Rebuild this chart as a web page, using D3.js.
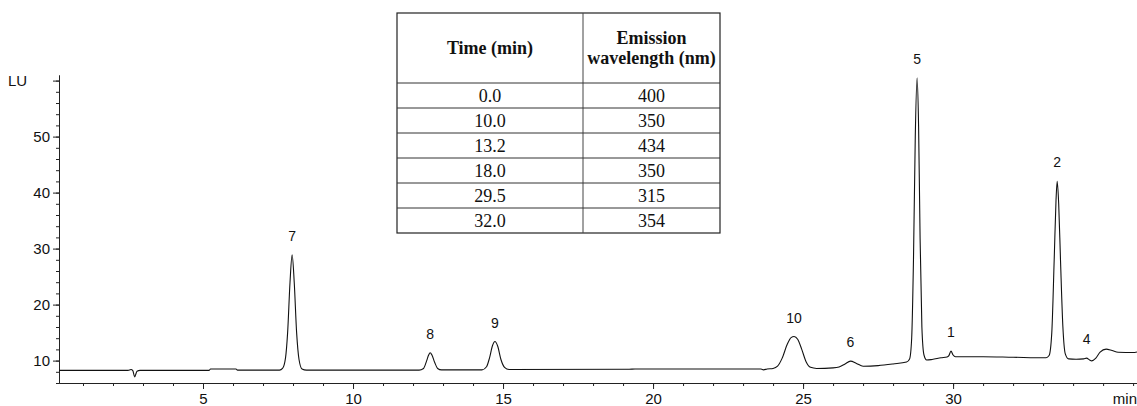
<!DOCTYPE html>
<html>
<head>
<meta charset="utf-8">
<title>Chromatogram</title>
<script src="https://d3js.org/d3.v7.min.js"></script>
<style>
body { margin: 0; background: #fff; }
</style>
</head>
<body>
<script>
var width = 1137,
    height = 406;

// trace: [time (min), signal (LU)]
var trace = [
  [0.2, 8.25], [2.5, 8.25], [2.6, 8.4], [2.66, 8.2], [2.72, 7.1], [2.8, 8.1], [2.9, 8.25],
  [5.2, 8.25], [5.25, 8.5], [6.1, 8.5], [6.15, 8.3], [7.55, 8.3],
  [7.65, 8.6], [7.75, 10.5], [7.82, 15], [7.9, 24], [7.97, 28.9], [8.04, 24], [8.12, 15],
  [8.2, 10.2], [8.3, 8.5], [8.45, 8.3],
  [12.2, 8.3], [12.35, 8.6], [12.45, 9.9], [12.52, 11], [12.57, 11.4], [12.63, 11],
  [12.72, 9.7], [12.82, 8.6], [12.95, 8.35],
  [14.3, 8.35], [14.45, 8.9], [14.55, 10.5], [14.65, 12.7], [14.73, 13.4], [14.82, 12.6],
  [14.93, 10.2], [15.05, 8.8], [15.2, 8.4],
  [19.2, 8.45], [19.4, 8.5], [23.6, 8.5], [23.68, 8.35], [23.8, 8.5], [24.0, 8.6],
  [24.15, 9.0], [24.3, 10.4], [24.48, 13], [24.6, 14.1], [24.7, 14.3], [24.82, 13.8],
  [24.95, 12.1], [25.1, 9.8], [25.25, 8.8], [25.45, 8.6],
  [26.0, 8.7], [26.2, 8.85], [26.4, 9.4], [26.58, 9.9], [26.78, 9.5], [27.0, 9.0],
  [27.5, 9.1], [28.0, 9.4], [28.45, 9.75],
  [28.55, 10.3], [28.62, 14], [28.68, 28], [28.74, 50], [28.8, 60.5], [28.85, 52],
  [28.9, 32], [28.96, 16], [29.03, 11], [29.12, 10.1], [29.3, 10.2],
  [29.6, 10.5], [29.8, 10.65], [29.86, 10.9], [29.93, 11.7], [30.0, 11.0], [30.08, 10.7],
  [31.0, 10.7], [32.0, 10.6], [33.1, 10.5],
  [33.2, 10.9], [33.29, 15], [33.37, 28], [33.43, 38.5], [33.47, 42], [33.52, 38],
  [33.58, 28], [33.66, 16], [33.74, 11.2], [33.85, 10.3],
  [34.1, 10.25], [34.35, 10.3], [34.45, 10.45], [34.55, 10.1], [34.62, 9.95],
  [34.75, 10.4], [34.9, 11.5], [35.1, 12.05], [35.3, 11.8], [35.5, 11.5], [36.0, 11.45], [36.13, 11.55]
];

var peakLabels = ["7", "8", "9", "10", "6", "5", "1", "2", "4"];
var peakTimes  = [7.97, 12.57, 14.73, 24.7, 26.58, 28.8, 29.93, 33.47, 34.45];
var peakApex   = [28.9, 11.4, 13.4, 14.3, 9.9, 60.5, 11.7, 42, 10.45];

var xMajorTicks = [5, 10, 15, 20, 25, 30];
var yMajorTicks = [10, 20, 30, 40, 50, 60];

var tableHeaders = [["Time (min)"], ["Emission", "wavelength (nm)"]];
var tableTimes = ["0.0", "10.0", "13.2", "18.0", "29.5", "32.0"];
var tableWavelengths = ["400", "350", "434", "350", "315", "354"];

var svg = d3.select("body").append("svg")
    .attr("width", width)
    .attr("height", height)
    .style("font-family", "'Liberation Sans', Arial, sans-serif");

var x = d3.scaleLinear().domain([0.2, 36.13]).range([59, 1137]);
var y = d3.scaleLinear().domain([6, 61]).range([383, 75]);

// x axis
svg.append("g")
    .attr("transform", "translate(0,383)")
    .call(d3.axisBottom(x).tickValues(xMajorTicks).tickSize(6).tickPadding(4).tickSizeOuter(0));
svg.append("g")
    .attr("transform", "translate(0,383)")
    .call(d3.axisBottom(x).tickValues(d3.range(1, 37)).tickSize(3).tickFormat("").tickSizeOuter(0));

// y axis
svg.append("g")
    .attr("transform", "translate(59,0)")
    .call(d3.axisLeft(y).tickValues(yMajorTicks).tickSize(6).tickPadding(3).tickSizeOuter(0)
      .tickFormat(function(d) { return d == 60 ? "" : d; }));
svg.append("g")
    .attr("transform", "translate(59,0)")
    .call(d3.axisLeft(y).tickValues(d3.range(6, 61, 2)).tickSize(3).tickFormat("").tickSizeOuter(0));

svg.selectAll(".domain, .tick line").attr("stroke", "#222").attr("stroke-width", 1);
svg.selectAll(".tick text").attr("fill", "#111").style("font-size", "15px");

svg.append("text").attr("x", 8).attr("y", 86)
    .style("font-size", "15px").attr("fill", "#111").text("LU");
svg.append("text").attr("x", 1137).attr("y", 404).attr("text-anchor", "end")
    .style("font-size", "15px").attr("fill", "#111").text("min");

// the trace
var line = d3.line()
    .x(function(d) { return x(d[0]); })
    .y(function(d) { return y(d[1]); })
    .curve(d3.curveMonotoneX);
svg.append("path")
    .datum(trace)
    .attr("d", line)
    .attr("fill", "none")
    .attr("stroke", "#111")
    .attr("stroke-width", 1.1);

// peak numbers
svg.append("g").selectAll("text")
    .data(peakLabels)
    .enter().append("text")
    .attr("x", function(d, i) { return x(peakTimes[i]); })
    .attr("y", function(d, i) { return y(peakApex[i]) - 14; })
    .attr("text-anchor", "middle")
    .style("font-size", "14px")
    .attr("fill", "#111")
    .text(function(d) { return d; });

// emission program table
var tx = 397, tw = 323, col = 186, ty = 13, headH = 70, rowH = 25;
var table = svg.append("g")
    .style("font-family", "'Liberation Serif', 'Times New Roman', serif")
    .attr("fill", "#111");
table.append("rect")
    .attr("x", tx).attr("y", ty).attr("width", tw).attr("height", headH + rowH * tableTimes.length)
    .attr("fill", "#fff").attr("stroke", "#222").attr("stroke-width", 1.2);
table.append("line")
    .attr("x1", tx + col).attr("x2", tx + col)
    .attr("y1", ty).attr("y2", ty + headH + rowH * tableTimes.length)
    .attr("stroke", "#444").attr("stroke-width", 1);
table.selectAll("line.row")
    .data(tableTimes)
    .enter().append("line")
    .attr("class", "row")
    .attr("x1", tx).attr("x2", tx + tw)
    .attr("y1", function(d, i) { return ty + headH + rowH * i; })
    .attr("y2", function(d, i) { return ty + headH + rowH * i; })
    .attr("stroke", "#333").attr("stroke-width", 1);

tableHeaders.forEach(function(lines, c) {
  var cx = c == 0 ? tx + col / 2 : tx + col + (tw - col) / 2;
  var y0 = ty + headH / 2 - (lines.length - 1) * 10 + 6;
  lines.forEach(function(s, k) {
    table.append("text")
      .attr("x", cx).attr("y", y0 + k * 20)
      .attr("text-anchor", "middle")
      .style("font-size", "18px").style("font-weight", "bold")
      .text(s);
  });
});

[tableTimes, tableWavelengths].forEach(function(vals, c) {
  var cx = c == 0 ? tx + col / 2 : tx + col + (tw - col) / 2;
  table.selectAll("text.c" + c)
    .data(vals)
    .enter().append("text")
    .attr("class", "c" + c)
    .attr("x", cx)
    .attr("y", function(d, i) { return ty + headH + rowH * i + 19; })
    .attr("text-anchor", "middle")
    .style("font-size", "18px")
    .text(function(d) { return d; });
});
</script>
</body>
</html>
